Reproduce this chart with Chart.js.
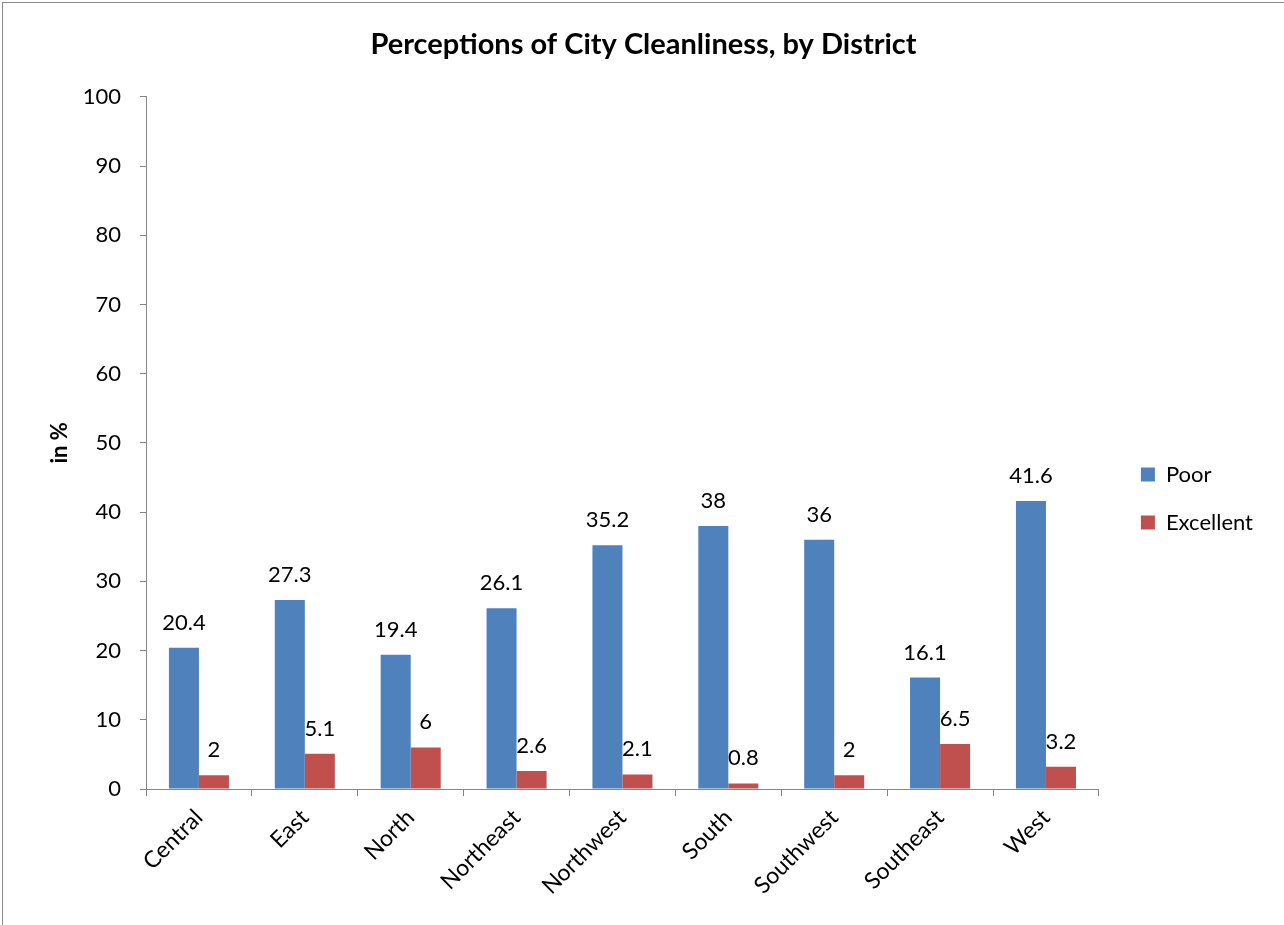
<!DOCTYPE html>
<html>
<head>
<meta charset="utf-8">
<script src="https://cdn.jsdelivr.net/npm/chart.js@4.4.1/dist/chart.umd.min.js"></script>
<style>
  html, body { margin: 0; padding: 0; background: #fff; overflow: hidden; }
  .frame { position: absolute; left: 2px; top: 2px; width: 1320px; height: 960px; border: 1px solid #8c8c8c; }
  #perceptions { position: absolute; left: 0; top: 0; }
</style>
</head>
<body>
<div class="frame"></div>
<canvas id="perceptions" width="1284" height="925"></canvas>
<script>
const districts = ['Central', 'East', 'North', 'Northeast', 'Northwest', 'South', 'Southwest', 'Southeast', 'West'];
const poor = [20.4, 27.3, 19.4, 26.1, 35.2, 38, 36, 16.1, 41.6];
const excellent = [2, 5.1, 6, 2.6, 2.1, 0.8, 2, 6.5, 3.2];
const seriesNames = ['Poor', 'Excellent'];

const FONT = 'Lato, "Open Sans", sans-serif';
Chart.defaults.font.family = FONT;
Chart.defaults.color = '#000';

// value written above every bar
const barValues = {
	id: 'barValues',
	afterDatasetsDraw(chart) {
		const ctx = chart.ctx;
		ctx.save();
		ctx.font = '22px ' + FONT;
		ctx.fillStyle = '#000';
		ctx.textAlign = 'center';
		ctx.textBaseline = 'alphabetic';
		chart.data.datasets.forEach((ds, i) => {
			chart.getDatasetMeta(i).data.forEach((bar, j) => {
				ctx.fillText(String(ds.data[j]), bar.x, bar.y - 18);
			});
		});
		ctx.restore();
	}
};

// push the legend a little right / down of where the layout puts it
const legendNudge = {
	id: 'legendNudge',
	afterLayout(chart) {
		const lg = chart.legend;
		const dx = 16, dy = 36;
		lg.left += dx; lg.right += dx;
		lg.top += dy; lg.bottom += dy;
	}
};

new Chart(document.getElementById('perceptions'), {
	type: 'bar',
	data: {
		labels: districts,
		datasets: [{
			label: seriesNames[0],
			data: poor,
			backgroundColor: '#4F81BD',
			borderWidth: 0,
		}, {
			label: seriesNames[1],
			data: excellent,
			backgroundColor: '#C0504D',
			borderWidth: 0,
		}],
	},
	options: {
		responsive: false,
		animation: false,
		layout: { padding: { left: 40, right: 37, top: 0, bottom: 0 } },
		datasets: { bar: { categoryPercentage: 0.567, barPercentage: 1 } },
		plugins: {
			title: {
				display: true,
				text: 'Perceptions of City Cleanliness, by District',
				font: { size: 29, weight: 'bold' },
				color: '#000',
				padding: { top: 27, bottom: 35 },
			},
			legend: {
				position: 'right',
				labels: {
					boxWidth: 14,
					boxHeight: 14,
					padding: 26,
					font: { size: 22 },
					color: '#000',
				},
			},
			tooltip: { enabled: false },
		},
		scales: {
			x: {
				afterFit(s) { s.height = 136; },
				grid: { drawOnChartArea: false, color: '#868686', tickLength: 7 },
				border: { color: '#868686', width: 1 },
				ticks: { maxRotation: 45, minRotation: 45, font: { size: 23 }, color: '#000', padding: 8 },
			},
			y: {
				min: 0,
				max: 100,
				afterFit(s) { s.width = 106; },
				grid: { drawOnChartArea: false, color: '#868686', tickLength: 6 },
				border: { color: '#868686', width: 1 },
				ticks: { stepSize: 10, font: { size: 22 }, color: '#000', padding: 19 },
				title: {
					display: true,
					text: 'in %',
					font: { size: 22, weight: 'bold' },
					color: '#000',
					padding: { top: 7, bottom: 0 },
				},
			},
		},
	},
	plugins: [barValues, legendNudge],
});
</script>
</body>
</html>
